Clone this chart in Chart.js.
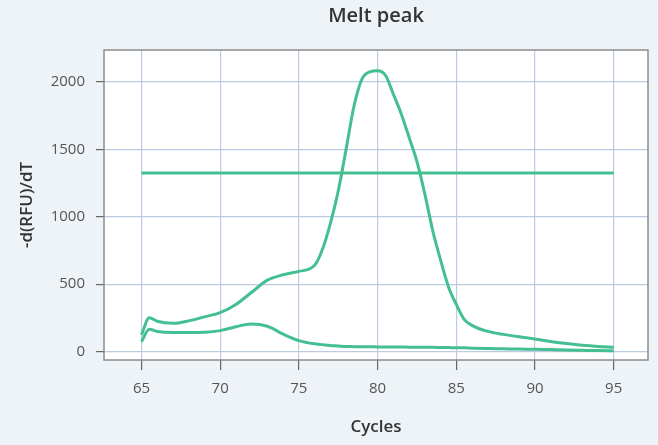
<!DOCTYPE html>
<html>
<head>
<meta charset="utf-8">
<script src="https://cdn.jsdelivr.net/npm/chart.js@4.4.1/dist/chart.umd.min.js"></script>
<style>
  html, body { margin: 0; padding: 0; background: #eef3f8; }
  canvas { display: block; }
</style>
</head>
<body>
<canvas id="myChart" width="658" height="445"></canvas>
<script>
// temperaturas
var temps = [65, 65.5, 66, 67, 68, 69, 70, 71, 72, 73, 74, 75, 76, 76.5, 77, 77.5, 78, 78.5, 79, 79.5,
             80, 80.5, 81, 81.5, 82, 82.5, 83, 83.5, 84, 84.5, 85, 85.5, 86, 87, 88, 89, 90, 91, 92, 93, 94, 95];

// curva con el pico grande
var peakValues = [124, 252, 225, 210, 228, 258, 289, 350, 440, 530, 570, 595, 640, 760, 950, 1190, 1500, 1820, 2020, 2075,
                  2083, 2050, 1910, 1765, 1590, 1410, 1170, 900, 680, 482, 350, 240, 195, 150, 128, 110, 94, 75, 60, 47, 38, 32];

// curva baja
var lowValues = [74, 166, 150, 142, 142, 144, 156, 185, 205, 188, 130, 82, 58, 52, 46, 42, 38, 37, 36, 36,
                 35, 35, 34, 34, 33, 33, 32, 32, 31, 30, 29, 28, 26, 23, 21, 19, 18, 15, 12, 10, 8, 7];

// línea de umbral
var thresholdX = [65, 95];
var thresholdValue = 1325;

var xTicks = [65, 70, 75, 80, 85, 90, 95];
var yTicks = [0, 500, 1000, 1500, 2000];

var lineColor = '#43bf92';
var gridColor = '#bccae2';
var fontFamily = 'Open Sans';
var tickFont = { family: fontFamily, size: 15 };
var titleFont = { family: fontFamily, size: 17, weight: '600' };

function toPoints(xs, ys) {
    return xs.map(function(x, i) { return { x: x, y: ys[i] }; });
}

// marco gris alrededor del área del gráfico
var marco = {
    id: 'marco',
    beforeDraw: function(chart) {
        var a = chart.chartArea, c = chart.ctx;
        c.save();
        c.fillStyle = '#eef3f8';
        c.fillRect(0, 0, chart.width, chart.height);
        c.fillStyle = '#ffffff';
        c.fillRect(a.left, a.top, a.right - a.left, a.bottom - a.top);
        c.restore();
    },
    afterDraw: function(chart) {
        var a = chart.chartArea, c = chart.ctx;
        c.save();
        c.strokeStyle = '#8c8c8c';
        c.lineWidth = 1.5;
        c.strokeRect(a.left, a.top, a.right - a.left, a.bottom - a.top);
        c.restore();
    }
};

var ctx = document.getElementById('myChart').getContext('2d');
var myChart = new Chart(ctx, {
    type: 'line',
    data: {
        datasets: [
            {
                label: 'Umbral',
                data: thresholdX.map(function(x) { return { x: x, y: thresholdValue }; }),
                borderColor: lineColor,
                borderWidth: 3,
                pointRadius: 0
            },
            {
                label: 'Pico',
                data: toPoints(temps, peakValues),
                borderColor: lineColor,
                borderWidth: 3,
                pointRadius: 0,
                cubicInterpolationMode: 'monotone'
            },
            {
                label: 'Bajo',
                data: toPoints(temps, lowValues),
                borderColor: lineColor,
                borderWidth: 3,
                pointRadius: 0,
                cubicInterpolationMode: 'monotone'
            }
        ]
    },
    options: {
        responsive: false,
        animation: false,
        layout: { padding: { top: 0, right: 10, bottom: 0, left: 0 } },
        plugins: {
            legend: { display: false },
            tooltip: { enabled: false },
            title: {
                display: true,
                text: 'Melt peak',
                fullSize: false,
                color: '#333333',
                font: { family: fontFamily, size: 20, weight: '600' },
                padding: { top: 4, bottom: 22 }
            }
        },
        scales: {
            x: {
                type: 'linear',
                min: 62.62,
                max: 97.18,
                afterBuildTicks: function(scale) {
                    scale.ticks = xTicks.map(function(v) { return { value: v }; });
                },
                afterFit: function(scale) { scale.height = 85; },
                ticks: {
                    color: '#555555',
                    font: tickFont,
                    padding: 10,
                    maxRotation: 0,
                    callback: function(v) { return String(v); }
                },
                grid: {
                    color: gridColor,
                    lineWidth: 1.2,
                    tickColor: '#666666',
                    tickLength: 10
                },
                border: { display: false },
                title: {
                    display: true,
                    text: 'Cycles',
                    color: '#333333',
                    font: titleFont,
                    padding: { top: 4, bottom: 8 }
                }
            },
            y: {
                type: 'linear',
                min: -62,
                max: 2237,
                afterBuildTicks: function(scale) {
                    scale.ticks = yTicks.map(function(v) { return { value: v }; });
                },
                afterFit: function(scale) { scale.width = 104; },
                ticks: {
                    color: '#555555',
                    font: tickFont,
                    padding: 11,
                    callback: function(v) { return String(v); }
                },
                grid: {
                    color: gridColor,
                    lineWidth: 1.2,
                    tickColor: '#666666',
                    tickLength: 8
                },
                border: { display: false },
                title: {
                    display: true,
                    text: '-d(RFU)/dT',
                    color: '#333333',
                    font: titleFont,
                    padding: { top: 17, bottom: 4 }
                }
            }
        }
    },
    plugins: [marco]
});
</script>
</body>
</html>
